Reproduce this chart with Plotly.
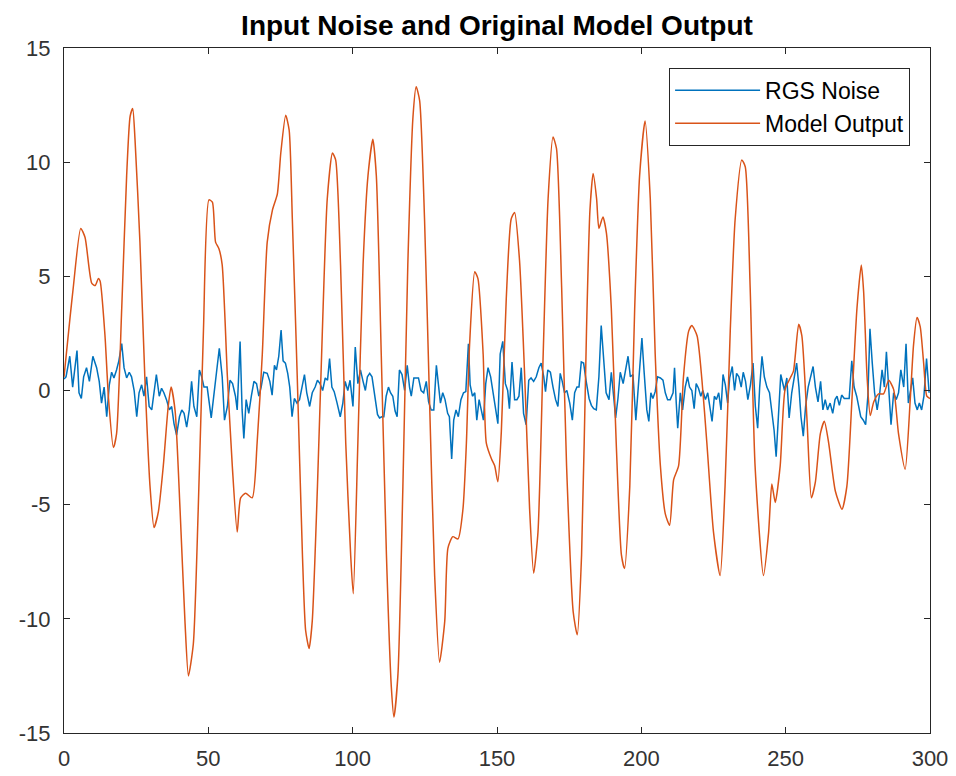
import plotly.graph_objects as go

# ---- Data ----
out_t = [0, 2.1, 3.2, 5.8, 7.3, 9.6, 10.8, 11.9, 12.5, 14.2, 15.4, 17.1, 18.2, 20, 21.7, 22.9, 23.8, 24.6,
         26.3, 28, 29.8, 31.2, 32.7, 34.4, 36.1, 37.1, 38.5, 40.2, 41.9, 43.1, 44.8, 46.5, 48.3, 50.2, 51.4,
         52.5, 53.7, 54.8, 56.6, 58.3, 60, 61.2, 62.9, 65.2, 66.9, 68.7, 70.4, 72.2, 73.9, 75.1, 76.8, 78,
         79.1, 80.8, 82.6, 83.7, 84.9, 86, 87.8, 89.5, 91.2, 93, 94.1, 95.8, 97.6, 99.3, 100.2, 101.8, 103.6,
         105.3, 107, 108.2, 109.9, 111.7, 113.4, 114.3, 115.7, 117.4, 119.1, 120.9, 122, 123.2, 124.9, 126.6,
         128.4, 130.1, 131.9, 133, 134.7, 136.5, 138.2, 139.4, 140.5, 142.3, 143.4, 145.2, 146.3, 148.1,
         149.2, 150.3, 151.5, 153.2, 154.9, 156.1, 157.8, 159.6, 161.3, 162.7, 164.2, 166, 167.7, 169.4,
         170.6, 172.4, 174.1, 176.4, 177.8, 179.3, 181, 182.2, 183.3, 184.5, 185.3, 186.7, 187.9, 189.6,
         191.3, 193.1, 194.2, 196, 197.7, 199.4, 201.3, 203.1, 204.8, 206.6, 208.3, 209.8, 211.2, 212.9,
         214.6, 216.4, 217.5, 219.3, 221, 222.7, 225, 227.3, 229, 230.8, 232.5, 234.8, 236, 237.7, 239.4,
         242.3, 244.1, 245.2, 246.4, 248.1, 249.8, 251.6, 252.7, 254.5, 255.6, 257.4, 258.9, 260.3, 262,
         263.4, 264.9, 267.2, 269.5, 271.2, 273, 274.7, 276.2, 277, 278.2, 279.3, 280.5, 282.2, 283.9,
         285.7, 287.4, 289.1, 291.4, 293.2, 294.3, 295.5, 296.6, 297.8, 298.9, 300]
out_v = [0.6, 3.2, 4.5, 7.1, 6.7, 4.7, 4.6, 4.9, 4.8, 2.4, -0.3, -2.5, -1.9, 3.6, 9.4, 12.0, 12.35, 11.0,
         6.5, 0.6, -4.2, -6.0, -5.3, -3.3, -0.7, 0.15, -0.9, -5.2, -10.1, -12.5, -11.1, -5.2, 2.6, 8.35, 8.25,
         6.5, 6.2, 5.5, 0.6, -3.3, -6.2, -4.7, -4.5, -4.7, -2.3, 1.6, 6.5, 7.9, 8.6, 10.4, 12.05, 11.4,
         7.5, 0.6, -7.2, -10.5, -11.3, -10.1, -4.2, 2.6, 8.4, 10.4, 10.1, 5.5, -2.3, -7.2, -8.9, -2.3, 5.5,
         9.4, 11.0, 9.4, 1.6, -7.2, -13.0, -14.3, -12.4, -4.2, 5.5, 12.0, 13.3, 12.7, 7.5, -0.3,
         -8.1, -11.9, -10.1, -6.9, -6.4, -6.5, -5.2, -2.3, 2.0, 5.2, 4.9, 1.6, -2.3, -3.0,
         -3.3, -4.0, -1.8, 4.0, 7.5, 7.8, 5.7, 0.6, -5.2, -8.0, -6.2, 1.6, 8.4, 11.1,
         10.6, 4.5, -3.3, -9.7, -10.7, -7.2, 2.6, 7.9, 9.5, 8.4, 7.1, 7.6, 6.9, 3.6,
         -2.3, -7.2, -7.8, -4.2, 3.6, 9.4, 11.8, 8.4, 1.6, -3.3, -5.4, -5.9, -3.9, -3.3,
         0.6, 2.6, 2.85, 2.4, 0.45, -2.3, -6.2, -8.1, -4.2, 2.6, 7.5, 10.1, 9.8, 4.5, -3.3,
         -8.1, -6.2, -4.1, -4.9, -3.3, 0.05, 0.55, 0.85, 2.9, 2.4, -1.3, -4.7, -4.0, -1.9,
         -1.35, -2.3, -4.4, -5.2, -4.2, -0.3, 3.6, 5.5, 4.35, 0.6, -1.1, -0.5, -0.15, -0.15,
         0.45, 0.05, -1.9, -3.45, -0.3, 2.0, 3.2, 2.8, 1.2, -0.25, -0.35]

noise_t = [0, 0.7, 2, 3, 3.7, 4.5, 5.2, 6, 6.8, 7.8, 8.8, 10, 11.3, 12.2, 13, 13.9, 14.8, 15.7, 16.5, 17.3,
           18.2, 19, 20, 20.8, 21.7, 22.6, 23.4, 24.3, 25.2, 26, 26.9, 27.7, 28.6, 29.5, 30.4, 31.2, 32, 33,
           33.8, 34.6, 35.5, 36.5, 37.3, 38.1, 39, 40, 40.8, 41.6, 42.5, 43.4, 44.2, 45, 46, 46.9, 47.7, 48.5,
           49.6, 51, 51.9, 52.8, 53.8, 54.8, 55.6, 56.6, 57.5, 58.4, 59.4, 60, 61, 61.7, 62.3, 63.1, 64, 64.9,
           65.8, 66.7, 67.5, 68.3, 69.2, 70.4, 71.3, 72.1, 72.9, 73.6, 74.4, 75.2, 75.9, 76.7, 77.5, 78.2,
           79, 79.8, 80.7, 81.6, 82.5, 83.3, 84.1, 85.1, 86, 87, 87.8, 88.7, 89.6, 90.5, 91.3, 92, 92.8, 93.6,
           94.5, 95.7, 96.6, 97.4, 98.3, 99.1, 100.1, 100.9, 101.8, 102.7, 103.6, 104.4, 105.1, 105.9, 106.7,
           107.6, 108.6, 109.3, 110.1, 110.8, 111.6, 112.4, 113.1, 113.9, 114.7, 115.4, 116.2, 117.1, 118,
           118.9, 119.7, 120.3, 121.2, 122, 122.8, 123.7, 124.6, 125.5, 126.3, 127.2, 128.1, 129, 129.7,
           130.4, 131.2, 132, 132.9, 133.5, 134.3, 135, 135.8, 136.6, 137.5, 138.4, 139.2, 140.1, 140.7,
           141.5, 142.3, 143, 143.8, 144.6, 145.3, 146.1, 146.9, 147.8, 148.8, 149.5, 150.3, 151.1, 152,
           152.9, 153.7, 154.3, 155.2, 156.1, 156.9, 157.6, 158.4, 159.2, 160.1, 161, 161.8, 162.7, 163.6,
           164.5, 165.3, 166.2, 166.8, 167.6, 168.5, 169.4, 170.3, 171.1, 171.9, 172.6, 173.4, 174.2, 175.2,
           176.1, 176.9, 177.7, 178.4, 179.2, 180, 180.9, 181.9, 182.7, 183.5, 184.4, 185.3, 186.1, 186.9,
           187.8, 188.8, 189.6, 190.4, 191.1, 191.9, 192.7, 193.7, 194.6, 195.4, 196.2, 197.1, 198.1, 199.4,
           200.2, 201, 201.9, 202.6, 203.3, 204, 204.8, 205.6, 206.6, 207.5, 208.3, 209.1, 210, 211, 211.5,
           212.1, 212.6, 213.5, 214.3, 215.2, 216, 216.7, 217.5, 218.3, 219, 219.8, 220.6, 221.3, 222.2, 223,
           223.9, 224.5, 225.3, 226, 226.8, 227.6, 228.3, 229.1, 229.9, 230.6, 231.5, 232.3, 233, 233.8,
           234.6, 235.3, 236.1, 236.9, 237.8, 238.7, 239.5, 240.3, 241, 241.8, 242.6, 243.5, 244.4, 245.2,
           246, 246.7, 247.5, 248.3, 249.6, 250.4, 251.2, 252.1, 253, 253.8, 254.6, 255.3, 256.1, 256.9,
           257.8, 258.7, 259.5, 260.3, 261.2, 262.1, 262.9, 263.7, 264.5, 265.4, 266.3, 267.1, 267.8, 268.6,
           269.4, 270.3, 271.2, 272, 272.9, 273.7, 274.6, 275.4, 276, 276.9, 277.7, 278.5, 279.2, 280, 280.8,
           281.7, 282.6, 283.4, 284.2, 284.9, 285.7, 286.5, 287.4, 288.3, 289.1, 289.9, 290.9, 291.7, 292.5,
           293.1, 294, 294.8, 295.6, 296.3, 297.1, 297.9, 298.8, 299.7]
noise_v = [0.5, 0.6, 1.5, 0.15, 0.9, 1.75, -0.1, -0.35, 0.6, 1.0, 0.4, 1.5, 1.0, 0.4, -0.55, 0.15, -1.15, 0.25,
           0.8, 0.55, 0.9, 1.3, 2.05, 1.0, 0.55, 0.8, 0.6, 0.0, -1.15, -0.1, 0.25, -0.25, 0.6, -0.7, -0.85,
           -0.1, 0.7, -0.25, 0.1, -0.1, -0.4, -0.85, -0.7, -1.45, -1.95, -1.15, -0.85, -1.0, -1.6, -0.85, 0.4,
           -0.7, -1.15, 0.9, 0.6, 0.15,
           0.15, -1.2, -0.25, 0.9, 1.85, 0.6, -1.3, -0.7, 0.45, 0.3, -0.25, -0.85, 2.15, -0.85, -2.1, -0.4,
           -1.0, -0.25, 0.4, 0.3, -0.25, 0.15, 0.8, 0.75, 0.4, -0.2, 1.1, 0.9, 1.5, 2.65, 1.3, 1.2, 0.75, 0.15,
           -1.15, -0.35, -0.55, -0.4, 0.15, 0.7, -0.1, -0.7, -0.1, 0.15, 0.45, 0.3, 0.0, 0.55, 0.45, 1.4, 0.15,
           -0.05, -0.5, -1.15, -0.55, 0.4, 0.0, 0.45, -0.7, 1.9, 0.3, 0.9, 0.4, 0.0, 0.6, 0.75, 0.6,
           -0.1, -1.05, -1.2, -1.15, -1.15, -0.25, 0.15, -0.1, -0.25, -0.9, -1.15, 0.9, 0.7, 0.0,
           1.1, 0.15, -0.25, 0.55, 0.55, 0.55, 0.0, -0.1, 0.4, -0.5, -0.85, -0.85, 1.1, 0.15,
           -0.55, -0.1, -0.4, -1.0, -1.15, -3.0, -1.3, -0.85, -1.15, -0.4, -0.1, -0.05, 2.05, 0.25,
           -0.25, -0.1, -1.3, -0.4, -0.85, -1.3, 0.3, 1.0, 0.6, -0.25, -0.7, -1.45, 1.6, 2.15,
           0.3, 0.0, -0.8, 1.25, -0.4, -0.4, -0.25, 1.0, -1.0, -1.5, 0.45, 0.55, 0.4, 0.6,
           1.0, 1.2, 0.6, -0.05, 0.9, 0.8, 0.15, -0.4, -0.7, 0.75, 0.4, -0.1, 0.0, -0.55,
           -1.3, -0.1, 0.15, 0.15, 1.25, 1.2, 0.4, -0.35, -0.65, -0.8, -0.85, 0.6, 2.85, 1.6,
           -0.1, -0.4, 0.8, -0.25, -1.2, -0.35, 0.8, 0.3, 1.05, 1.5, 0.6, 0.7, -1.3, 1.0,
           2.3, 0.75, -0.85, -1.35, -0.1, -0.35, -0.05, 0.6, 0.55, 0.45, -0.1, -0.4, -0.4, -0.1, 1.0,
           -0.55, -1.65, -0.1, -0.85, 0.15, 0.6, 0.15, 0.0, -0.8, 0.3, 0.1, -0.25, 0.0, -0.4, -0.1,
           -0.85, -1.35, -0.25, -0.4, -0.1, -0.85, 0.7, 0.25, -0.55, 0.55, 1.05, 0.0, 0.75, 0.6,
           0.15, 0.8, 0.4, -0.4, 0.25, 1.2, -0.7, -1.65, 0.15, 1.5, 0.6, 0.15, -0.1, -0.85,
           -1.75, -2.9, -0.85, 0.7, 0.0, 0.55, -1.2, -0.1, 0.6, 1.2, 0.15, -1.15, -2.0, -0.7,
           0.15, 0.6, 1.05, 0.15, -0.5, 0.4, -0.85, -0.4, -0.85, -0.55, -1.0, -0.4, -0.25, -0.65,
           -0.2, -0.35, -0.35, -0.35, 1.3, 0.15, -0.25, -0.85, -1.15, -1.3, -1.5, -0.2, 2.7, 1.2, -0.1,
           -0.85, -0.1, 0.9, 0.15, 1.7, -0.1, -1.5, -0.1, -0.4, -0.1, 0.9, 0.15, 2.05, -0.55,
           -0.1, 0.55, -0.55, -0.85, -0.55, -0.85, -0.25, 1.4, -0.1]

x_ticks = [0, 50, 100, 150, 200, 250, 300]
y_ticks = [-15, -10, -5, 0, 5, 10, 15]
y_tick_text = ["-15", "-10", "-5", "0", "5", "10", "15"]

AX = "#262626"
TICK_COL = "#333333"
FONT = "Liberation Sans, Arial, Helvetica, sans-serif"
TICK_SIZE = 22

fig = go.Figure()
fig.add_trace(go.Scatter(x=noise_t, y=noise_v, mode="lines", name="RGS Noise", legendgroup="a",
                         line=dict(color="#0072BD", width=1.5)))
fig.add_trace(go.Scatter(x=out_t, y=out_v, mode="lines", name="Model Output", legendgroup="b",
                         line=dict(color="#D95319", width=1.5, shape="spline", smoothing=0.6)))

# page body adds an 8px offset; plot area lands at x 64..930, y 48..733 in the window
W, H = 948, 768
L, R, T, B = 56, 26, 40, 43
fig.update_layout(
    width=W, height=H,
    margin=dict(l=L, r=R, t=T, b=B, autoexpand=False),
    paper_bgcolor="white", plot_bgcolor="white",
    font=dict(family=FONT, size=TICK_SIZE, color=TICK_COL),
    title=dict(text="<b>Input Noise and Original Model Output</b>", x=(L + W - R) / 2 / W,
               xanchor="center", y=1 - 17 / H, yanchor="middle",
               font=dict(family=FONT, size=28, color="black")),
    showlegend=True,
    legend=dict(x=0.977, y=0.971, xanchor="right", yanchor="top",
                bgcolor="white", bordercolor=AX, borderwidth=1,
                font=dict(family=FONT, size=23, color="black"),
                tracegroupgap=0, itemwidth=85),
)
fig.update_xaxes(range=[0, 300], tickvals=x_ticks, ticktext=[str(v) for v in x_ticks],
                 showgrid=False, zeroline=False, showline=True, linecolor=AX, linewidth=1.2,
                 mirror="ticks", ticks="inside", ticklen=6, tickcolor=AX, tickwidth=1,
                 ticklabelstandoff=5, automargin=False,
                 tickfont=dict(family=FONT, size=TICK_SIZE, color=TICK_COL))
fig.update_yaxes(range=[-15, 15], tickvals=y_ticks, ticktext=y_tick_text,
                 showgrid=False, zeroline=False, showline=True, linecolor=AX, linewidth=1.2,
                 mirror="ticks", ticks="inside", ticklen=6, tickcolor=AX, tickwidth=1,
                 ticklabelstandoff=8, automargin=False,
                 tickfont=dict(family=FONT, size=TICK_SIZE, color=TICK_COL))

fig.write_html("out.html")
